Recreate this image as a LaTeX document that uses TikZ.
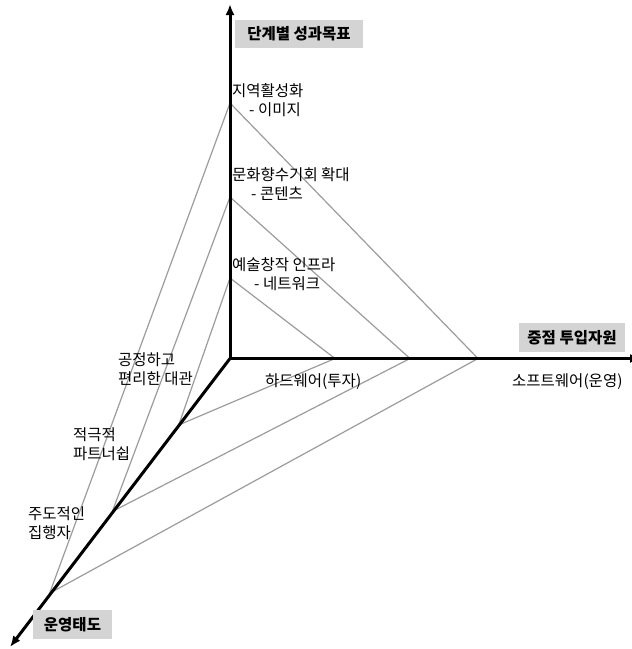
\documentclass[tikz,border=0pt]{standalone}
\usepackage{fontspec}
\setmainfont{Noto Sans CJK KR}
\usetikzlibrary{arrows.meta}
\definecolor{boxgray}{HTML}{D4D4D4}
\definecolor{guidegray}{HTML}{9C9C9C}
\begin{document}
\begin{tikzpicture}[x=1pt,y=-1pt,
  axis/.style={line width=3pt,-{Latex[length=11pt,width=9pt]}},
  guide/.style={draw=guidegray,line width=1.2pt},
  lbl/.style={font=\fontsize{15.5}{18.8}\selectfont,align=left,inner sep=0pt,anchor=base west},
  titlebox/.style={fill=boxgray,font=\bfseries\fontsize{15.5}{17}\selectfont,inner sep=0pt,minimum height=28.5pt}]
\useasboundingbox (0,0) rectangle (632,649);
\fill[white] (0,0) rectangle (632,649);
% key points
\coordinate (O) at (230,358.5);
\coordinate (Vend) at (230,4);
\coordinate (Hend) at (641,358.5);
\coordinate (Dend) at (10,647);
\coordinate (A1) at (230,103);
\coordinate (A2) at (230,197);
\coordinate (A3) at (230,278);
\coordinate (H1) at (335,358.5);
\coordinate (H2) at (410,358.5);
\coordinate (H3) at (478,358.5);
\coordinate (D1) at (178.7,425);
\coordinate (D2) at (112.3,511.5);
\coordinate (D3) at (49.6,593.3);
% guide triangles
\draw[guide] (A1) -- (H3) -- (D3) -- cycle;
\draw[guide] (A2) -- (H2) -- (D2) -- cycle;
\draw[guide] (A3) -- (H1) -- (D1) -- cycle;
% axes
\draw[axis] (O) -- (Vend);
\draw[axis] (O) -- (Hend);
\draw[axis] (O) -- (Dend);
% axis titles
\node[titlebox,minimum width=128pt] (tV) at (299,34) {단계별 성과목표};
\node[titlebox,minimum width=106pt] (tH) at (572,337.5) {중점 투입자원};
\node[titlebox,minimum width=79pt] (tD) at (72.5,624.5) {운영태도};
% vertical labels
\node[lbl] (lA1) at (232,115) {지역활성화\\\hspace*{17pt}- 이미지};
\node[lbl] (lA2) at (232,199) {문화향수기회 확대\\\hspace*{19pt}- 콘텐츠};
\node[lbl] (lA3) at (232,289) {예술창작 인프라\\\hspace*{22pt}- 네트워크};
% horizontal labels
\node[lbl] (lH1) at (265,386) {하드웨어(투자)};
\node[lbl] (lH3) at (512,386) {소프트웨어(운영)};
% diagonal labels
\node[lbl] (lD1) at (118,384) {공정하고\\편리한 대관};
\node[lbl] (lD2) at (73,459) {적극적\\파트너쉽};
\node[lbl] (lD3) at (28,538) {주도적인\\집행자};
\end{tikzpicture}
\end{document}
